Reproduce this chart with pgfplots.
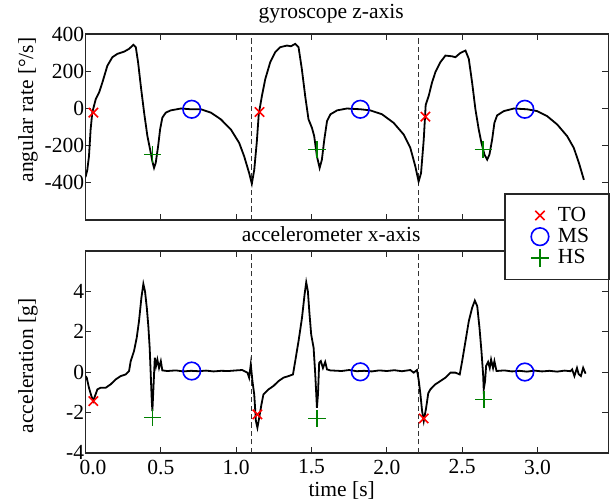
\documentclass[border=0pt]{standalone}
\usepackage{fontspec}
\setmainfont{Liberation Serif}
\usepackage{pgfplots}
\pgfplotsset{compat=1.18}
\usepackage{pgfplotstable}

% gyroscope z-axis, angular rate [deg/s]
\pgfplotstableread{
t v
0.000 -370
0.012 -330
0.023 -257
0.034 -113
0.045 -22
0.055 10
0.068 50
0.090 86
0.112 140
0.145 230
0.178 276
0.211 294
0.256 306
0.289 321
0.318 343
0.334 330
0.349 249
0.367 122
0.389 -22
0.411 -149
0.429 -221
0.444 -285
0.455 -320
0.466 -293
0.482 -203
0.495 -113
0.510 -49
0.533 -22
0.566 -10
0.633 0
0.699 -4
0.766 -4
0.832 -22
0.898 -58
0.965 -113
1.020 -185
1.053 -257
1.086 -347
1.104 -405
1.120 -330
1.137 -180
1.150 -30
1.171 68
1.193 158
1.226 249
1.259 303
1.292 330
1.337 339
1.363 335
1.392 348
1.414 330
1.436 212
1.458 68
1.480 -58
1.503 -104
1.518 -149
1.536 -257
1.554 -320
1.569 -275
1.585 -167
1.603 -68
1.626 -31
1.670 -10
1.735 0
1.824 -4
1.890 -10
1.968 -31
2.045 -77
2.112 -140
2.156 -212
2.189 -311
2.211 -393
2.227 -348
2.245 -167
2.258 20
2.278 68
2.300 140
2.322 195
2.355 249
2.389 285
2.433 281
2.455 276
2.488 299
2.522 312
2.544 267
2.566 140
2.588 -4
2.610 -113
2.628 -185
2.648 -248
2.666 -275
2.681 -248
2.699 -167
2.714 -77
2.732 -37
2.776 -14
2.843 0
2.931 -4
2.998 -14
3.064 -41
3.131 -86
3.197 -149
3.241 -212
3.275 -293
3.308 -384
}\gyro

% accelerometer x-axis [g]
\pgfplotstableread{
t v
0.000 -0.20
0.008 -0.28
0.023 -0.78
0.039 -1.19
0.052 -1.44
0.063 -1.19
0.079 -0.86
0.101 -0.78
0.134 -0.78
0.167 -0.61
0.200 -0.37
0.234 -0.20
0.267 -0.12
0.289 0.05
0.300 0.54
0.322 1.04
0.340 1.70
0.355 2.52
0.371 3.68
0.384 4.37
0.395 4.00
0.407 3.18
0.417 2.28
0.426 1.20
0.433 -0.12
0.440 -1.44
0.444 -1.93
0.451 -0.78
0.460 0.71
0.468 0.30
0.477 0.62
0.488 0.20
0.500 0.54
0.510 0.08
0.543 0.05
0.600 0.08
0.650 0.03
0.700 0.06
0.750 0.04
0.800 0.07
0.850 0.03
0.900 0.06
0.950 0.05
1.000 0.08
1.040 0.10
1.053 0.05
1.075 -0.03
1.086 -0.28
1.097 0.38
1.108 -0.45
1.120 -1.12
1.131 -2.43
1.141 -2.76
1.153 -2.26
1.168 -1.60
1.181 -1.11
1.215 -0.86
1.248 -0.69
1.281 -0.45
1.314 -0.28
1.348 -0.20
1.377 -0.12
1.392 0.54
1.414 1.53
1.437 2.69
1.454 3.84
1.465 4.45
1.476 4.00
1.487 2.85
1.498 1.86
1.514 1.20
1.525 -0.12
1.536 -1.77
1.543 -1.11
1.551 0.46
1.562 0.54
1.576 0.20
1.591 0.50
1.603 0.13
1.625 0.08
1.700 0.05
1.750 0.10
1.800 0.04
1.850 0.06
1.900 0.03
1.950 0.08
2.000 0.05
2.050 0.09
2.100 0.04
2.156 0.10
2.178 -0.03
2.200 0.10
2.211 -0.37
2.223 -1.11
2.234 -1.93
2.245 -2.43
2.261 -1.77
2.275 -1.05
2.289 -0.86
2.322 -0.61
2.355 -0.45
2.389 -0.28
2.422 -0.03
2.455 -0.03
2.484 -0.12
2.500 0.54
2.522 1.53
2.544 2.52
2.566 3.18
2.584 3.54
2.600 3.27
2.615 2.19
2.628 1.04
2.639 -0.12
2.643 -0.86
2.652 -0.45
2.659 0.30
2.672 0.50
2.683 0.20
2.692 0.62
2.705 0.20
2.714 0.54
2.728 0.05
2.780 0.08
2.830 0.03
2.880 0.06
2.930 0.02
2.980 0.07
3.030 0.03
3.080 0.06
3.130 0.02
3.180 0.07
3.219 0.04
3.230 0.13
3.245 -0.20
3.262 0.20
3.273 -0.10
3.288 -0.20
3.303 0.21
3.319 -0.08
}\acc

\newcommand{\chartfont}{\fontsize{10.8}{12}\selectfont}
\definecolor{msgreen}{rgb}{0,0.5,0}

\pgfplotsset{
  gait/.style={
    scale only axis, width=261.4bp,
    xmin=0, xmax=3.47,
    xtick={0,0.5,1,1.5,2,2.5,3},
    tick align=inside,
    major tick length=3bp,
    axis line style={line width=0.8bp, black!85},
    every tick/.style={black!85, line width=0.5bp},
    /pgf/number format/assume math mode=true,
    tick label style={font=\chartfont},
    yticklabel style={inner xsep=0.5bp},
    label style={font=\chartfont},
    every axis title shift=0pt,
    title style={font=\chartfont, anchor=center},
    ylabel style={anchor=center},
  },
  event line/.style={black!80, line width=0.7bp, dash pattern=on 2.6bp off 1.6bp, forget plot},
  curve/.style={black, line width=0.9bp, forget plot},
  TO/.style={only marks, mark=x, red, mark size=3.3bp, line width=0.8bp, forget plot},
  MS/.style={only marks, mark=o, blue, mark size=4.4bp, line width=0.8bp, forget plot},
  HS/.style={only marks, mark=+, msgreen, mark size=4.3bp, line width=0.8bp, forget plot},
}

\begin{document}
\begin{tikzpicture}
\useasboundingbox (-42.75bp,-140.5bp) rectangle (264.75bp,110bp);

\begin{axis}[gait,
  at={(0bp,0bp)}, anchor=south west,
  height=92.9bp,
  ymin=-600, ymax=400,
  ytick={-400,-200,0,200,400},
  xticklabels={},
  title={gyroscope z-axis},
  title style={at={(axis description cs:0.47,1.109)}},
  ylabel={angular rate [°/s]},
  ylabel style={at={(axis description cs:-0.11,0.592)}},
]
\addplot[event line] coordinates {(1.1,-600) (1.1,400)};
\addplot[event line] coordinates {(2.21,-600) (2.21,400)};
\addplot[curve] table[x=t, y=v] {\gyro};
\addplot[TO] coordinates {(0.052,-22) (1.155,-19) (2.256,-44)};
\addplot[MS] coordinates {(0.705,-4) (1.824,-4) (2.916,-4)};
\addplot[HS] coordinates {(0.444,-248) (1.536,-221) (2.639,-221)};
\end{axis}

\begin{axis}[gait,
  at={(0bp,-116.35bp)}, anchor=south west,
  height=100.85bp,
  ymin=-4, ymax=6,
  ytick={-4,-2,0,2,4},
  xticklabels={\hspace{7.5bp}0.0, 0.5, 1.0, 1.5, 2.0, 2.5, 3.0},
  title={accelerometer x-axis},
  title style={at={(axis description cs:0.47,1.084)}},
  ylabel={acceleration [g]},
  ylabel style={at={(axis description cs:-0.11,0.43)}},
  xlabel={time [s]},
  xlabel style={at={(axis description cs:0.49,-0.185)}, anchor=center},
  legend cell align=left,
  legend style={at={(axis description cs:1.003,1.2875)}, anchor=north east,
    draw=black!85, line width=0.8bp, fill=white, font=\chartfont,
    inner xsep=8bp, inner ysep=5.5bp,
    nodes={inner xsep=2bp, inner ysep=1bp, text depth=0.15em}},
]
\addplot[event line] coordinates {(1.1,-4) (1.1,6)};
\addplot[event line] coordinates {(2.21,-4) (2.21,6)};
\addplot[curve] table[x=t, y=v] {\acc};
\addplot[TO] coordinates {(0.052,-1.44) (1.141,-2.1) (2.245,-2.3)};
\addplot[MS] coordinates {(0.705,0.05) (1.824,0.01) (2.916,0)};
\addplot[HS] coordinates {(0.444,-2.26) (1.536,-2.31) (2.643,-1.36)};
\addlegendimage{legend image code/.code={
  \path[draw=none, fill=none] (-9.5bp,0bp) -- (7bp,0bp);
  \draw[red, fill=none, line width=0.8bp] plot[mark=x, mark size=3.3bp, only marks] coordinates {(0bp,0bp)};}}
\addlegendentry{TO}
\addlegendimage{legend image code/.code={
  \path[draw=none, fill=none] (-9.5bp,0bp) -- (7bp,0bp);
  \draw[blue, fill=none, line width=0.8bp] plot[mark=o, mark size=4.4bp, only marks] coordinates {(0bp,0bp)};}}
\addlegendentry{MS}
\addlegendimage{legend image code/.code={
  \path[draw=none, fill=none] (-9.5bp,0bp) -- (7bp,0bp);
  \draw[msgreen, fill=none, line width=0.8bp] plot[mark=+, mark size=4.3bp, only marks] coordinates {(0bp,0bp)};}}
\addlegendentry{HS}
\end{axis}
\end{tikzpicture}
\end{document}
